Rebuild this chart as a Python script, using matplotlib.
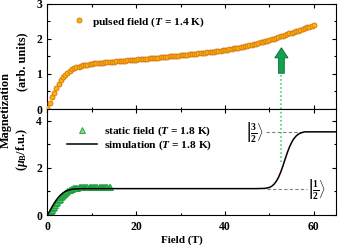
import numpy as np
import matplotlib
matplotlib.use("Agg")
import matplotlib.pyplot as plt
from matplotlib.ticker import MultipleLocator
from matplotlib.lines import Line2D

# ── fonts ─────────────────────────────────────────────────────────────────────
plt.rcParams["font.family"] = ["Liberation Serif", "DejaVu Serif"]
plt.rcParams["font.weight"] = "bold"
plt.rcParams["mathtext.fontset"] = "custom"
plt.rcParams["mathtext.rm"] = "Liberation Serif:bold"
plt.rcParams["mathtext.bf"] = "Liberation Serif:bold"
plt.rcParams["mathtext.it"] = "Liberation Serif:italic:bold"

# ── data ──────────────────────────────────────────────────────────────────────
# pulsed field, T = 1.4 K (arb. units)
PULSED_FIELD = [
    0.0, 0.5, 1.0, 1.5, 2.0, 2.5, 3.0, 3.5, 4.0, 4.5, 5.0, 5.5, 6.0, 6.5, 7.0, 7.5,
    8.0, 8.5, 9.0, 9.5, 10.0, 10.5, 11.0, 11.5, 12.0, 12.5, 13.0, 13.5, 14.0, 14.5,
    15.0, 15.5, 16.0, 16.5, 17.0, 17.5, 18.0, 18.5, 19.0, 19.5, 20.0, 20.5, 21.0,
    21.5, 22.0, 22.5, 23.0, 23.5, 24.0, 24.5, 25.0, 25.5, 26.0, 26.5, 27.0, 27.5,
    28.0, 28.5, 29.0, 29.5, 30.0, 30.5, 31.0, 31.5, 32.0, 32.5, 33.0, 33.5, 34.0,
    34.5, 35.0, 35.5, 36.0, 36.5, 37.0, 37.5, 38.0, 38.5, 39.0, 39.5, 40.0, 40.5,
    41.0, 41.5, 42.0, 42.5, 43.0, 43.5, 44.0, 44.5, 45.0, 45.5, 46.0, 46.5, 47.0,
    47.5, 48.0, 48.5, 49.0, 49.5, 50.0, 50.5, 51.0, 51.5, 52.0, 52.5, 53.0, 53.5,
    54.0, 54.5, 55.0, 55.5, 56.0, 56.5, 57.0, 57.5, 58.0, 58.5, 59.0, 59.5, 60.0,
]
PULSED_M = [
    0.03, 0.17, 0.33, 0.47, 0.60, 0.71, 0.82, 0.91, 0.98, 1.04, 1.09, 1.13, 1.16,
    1.19, 1.21, 1.23, 1.25, 1.26, 1.27, 1.28, 1.29, 1.30, 1.31, 1.315, 1.320, 1.326,
    1.332, 1.337, 1.343, 1.348, 1.354, 1.359, 1.365, 1.370, 1.376, 1.381, 1.387,
    1.392, 1.398, 1.404, 1.410, 1.416, 1.422, 1.428, 1.434, 1.440, 1.446, 1.452,
    1.458, 1.464, 1.470, 1.476, 1.482, 1.488, 1.494, 1.500, 1.507, 1.513, 1.520,
    1.526, 1.533, 1.540, 1.546, 1.553, 1.560, 1.567, 1.573, 1.580, 1.587, 1.594,
    1.600, 1.608, 1.616, 1.624, 1.632, 1.641, 1.650, 1.659, 1.668, 1.677, 1.687,
    1.697, 1.707, 1.718, 1.730, 1.742, 1.754, 1.766, 1.779, 1.792, 1.805, 1.818,
    1.831, 1.848, 1.865, 1.882, 1.900, 1.917, 1.935, 1.952, 1.970, 1.991, 2.012,
    2.033, 2.054, 2.075, 2.096, 2.117, 2.138, 2.158, 2.178, 2.198, 2.218, 2.238,
    2.258, 2.281, 2.305, 2.329, 2.353, 2.377, 2.400,
]

# static field, T = 1.8 K (muB / f.u.)
STATIC_FIELD = [
    0.0, 0.25, 0.5, 0.75, 1.0, 1.25, 1.5, 1.75, 2.0, 2.25, 2.5, 2.75, 3.0, 3.25,
    3.5, 3.75, 4.0, 4.25, 4.5, 4.75, 5.0, 5.25, 5.5, 5.75, 6.0, 6.25, 6.5, 6.75,
    7.0, 7.25, 7.5, 7.75, 8.0, 8.25, 8.5, 8.75, 9.0, 9.25, 9.5, 9.75, 10.0, 10.25,
    10.5, 10.75, 11.0, 11.25, 11.5, 11.75, 12.0, 12.25, 12.5, 12.75, 13.0, 13.25,
    13.5, 13.75, 14.0,
]
STATIC_M = [
    0.00, 0.05, 0.10, 0.16, 0.22, 0.29, 0.36, 0.43, 0.50, 0.57, 0.63, 0.69, 0.75,
    0.81, 0.86, 0.91, 0.95, 0.99, 1.02, 1.05, 1.07, 1.09, 1.11, 1.13, 1.14, 1.15,
    1.16, 1.165, 1.17, 1.175, 1.18, 1.18, 1.18, 1.185, 1.185, 1.185, 1.19, 1.19,
    1.19, 1.19, 1.19, 1.19, 1.19, 1.19, 1.19, 1.19, 1.19, 1.19, 1.19, 1.19, 1.19,
    1.19, 1.19, 1.19, 1.19, 1.19, 1.19,
]

# simulation, T = 1.8 K
SIM_FIELD = [
    0, 0.5, 1, 1.5, 2, 2.5, 3, 3.5, 4, 4.5, 5, 5.5, 6, 7, 8, 10, 20, 30, 40, 45,
    47, 48, 49, 50, 50.5, 51, 51.5, 52, 52.5, 53, 53.5, 54, 54.5, 55, 55.5, 56,
    56.5, 57, 57.5, 58, 59, 60, 62, 65,
]
SIM_M = [
    0.00, 0.17, 0.34, 0.50, 0.64, 0.76, 0.86, 0.94, 1.00, 1.04, 1.07, 1.09, 1.10,
    1.115, 1.12, 1.12, 1.12, 1.12, 1.12, 1.12, 1.12, 1.125, 1.13, 1.17, 1.22, 1.30,
    1.42, 1.58, 1.80, 2.06, 2.35, 2.63, 2.88, 3.08, 3.24, 3.35, 3.43, 3.48, 3.51,
    3.53, 3.53, 3.53, 3.53, 3.53,
]

PLATEAU_LOW = 1.12
PLATEAU_HIGH = 3.53
TRANSITION_FIELD = 52.7

GREEN_FILL = "#4CC25A"
GREEN_EDGE = "#1E9E3E"

# ── figure ────────────────────────────────────────────────────────────────────
fig = plt.figure(figsize=(3.38, 2.45), dpi=100)
ax_top = fig.add_axes([0.1405, 0.5551, 0.8536, 0.4286])
ax_bot = fig.add_axes([0.1405, 0.1224, 0.8536, 0.4327], sharex=ax_top)

for ax in (ax_top, ax_bot):
    ax.set_xlim(0, 65)
    ax.xaxis.set_major_locator(MultipleLocator(20))
    ax.xaxis.set_minor_locator(MultipleLocator(10))
    ax.tick_params(which="both", direction="in", top=True, right=True,
                   labelsize=8.4, width=0.8, pad=4)
    ax.tick_params(which="major", length=3.2)
    ax.tick_params(which="minor", length=1.8)
    for s in ax.spines.values():
        s.set_linewidth(0.8)

# top panel: pulsed field
ax_top.set_ylim(0, 3.0)
ax_top.yaxis.set_major_locator(MultipleLocator(1))
ax_top.yaxis.set_minor_locator(MultipleLocator(0.5))
ax_top.tick_params(labelbottom=False)
ax_top.plot(PULSED_FIELD, PULSED_M, "o", ms=3.6, mfc="#FFB300", mec="#D2741A",
            mew=0.6, label=r"pulsed field ($T$ = 1.4 K)", zorder=3)
ax_top.plot([TRANSITION_FIELD, TRANSITION_FIELD], [0, 1.0], ls=":",
            color="#2BC864", lw=1.1)
ax_top.arrow(TRANSITION_FIELD, 1.02, 0, 0.73, width=1.3, head_width=3.0,
             head_length=0.29, length_includes_head=True,
             fc="#12A150", ec="#0B6B35", lw=0.6, zorder=4)
ax_top.legend(loc="center left", bbox_to_anchor=(0.217, 0.911),
              bbox_transform=fig.transFigure, frameon=False, fontsize=8.2,
              handlelength=1.0, handletextpad=0.65, borderpad=0, borderaxespad=0)

# bottom panel: static field + simulation
ax_bot.set_ylim(0, 4.5)
ax_bot.yaxis.set_major_locator(MultipleLocator(2))
ax_bot.yaxis.set_minor_locator(MultipleLocator(1))
ax_bot.plot(STATIC_FIELD, STATIC_M, "^", ms=4.0, mfc=GREEN_FILL, mec=GREEN_EDGE,
            mew=0.6, zorder=2)
ax_bot.plot(SIM_FIELD, SIM_M, "-", color="black", lw=1.1, zorder=3)
ax_bot.plot([TRANSITION_FIELD, TRANSITION_FIELD], [2.27, 4.5], ls=":",
            color="#2BC864", lw=1.1, clip_on=False)
ax_bot.plot([49.2, 58.0], [PLATEAU_HIGH, PLATEAU_HIGH], ls=(0, (3, 2)),
            color="#808080", lw=0.8, zorder=1)
ax_bot.plot([49.5, 58.4], [PLATEAU_LOW, PLATEAU_LOW], ls=(0, (3, 2)),
            color="#808080", lw=0.8, zorder=1)
ax_bot.text(48.9, PLATEAU_HIGH, r"$\left|\frac{3}{2}\right\rangle$",
            ha="right", va="center", fontsize=10)
ax_bot.text(58.7, PLATEAU_LOW, r"$\left|\frac{1}{2}\right\rangle$",
            ha="left", va="center", fontsize=10)

handles = [
    Line2D([], [], ls="none", marker="^", ms=4.0, mfc="#7CDB86", mec=GREEN_EDGE, mew=0.6),
    Line2D([], [], color="black", lw=1.1),
]
ax_bot.legend(handles, [r"static field ($T$ = 1.8 K)", r"simulation ($T$ = 1.8 K)"],
              loc="center left", bbox_to_anchor=(0.197, 0.435),
              bbox_transform=fig.transFigure, frameon=False, fontsize=8.2,
              handlelength=2.65, handletextpad=0.65, labelspacing=0.1,
              borderpad=0, borderaxespad=0)

# axis labels
fig.text(0.5385, 0.0204, "Field (T)", ha="center", va="center", fontsize=8)
fig.text(0.0163, 0.551, "Magnetization", rotation=90, ha="center", va="center",
         fontsize=8.8)
fig.text(0.066, 0.749, "(arb. units)", rotation=90, ha="center", va="center",
         fontsize=8.8)
fig.text(0.066, 0.388, r"($\mu_{\mathrm{B}}$/f.u.)", rotation=90, ha="center",
         va="center", fontsize=8.8)

fig.savefig("out.png", dpi=100)
